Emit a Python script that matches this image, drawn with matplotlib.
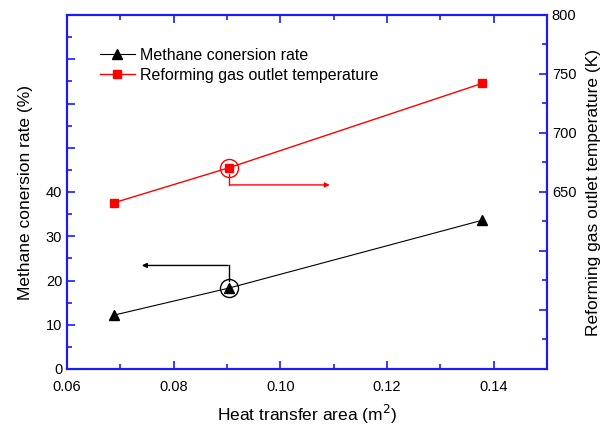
import matplotlib
matplotlib.use("Agg")
import matplotlib.pyplot as plt
import numpy as np

plt.rcParams['font.family'] = ['Liberation Sans', 'DejaVu Sans']

area = [0.0689, 0.0904, 0.1378]
conversion = [12.2, 18.3, 33.6]
temperature = [641, 670.6, 742]

left_ticks = [0, 10, 20, 30, 40]
right_ticks = [650, 700, 750, 800]
x_ticks = [0.06, 0.08, 0.10, 0.12, 0.14]
x_ticklabels = ['0.06', '0.08', '0.10', '0.12', '0.14']

blue = '#1a1aff'

fig = plt.figure(figsize=(6.11, 4.26), dpi=100)
ax = fig.add_axes([67/611, 1-369/426, 480/611, 354/426])
ax2 = ax.twinx()

l1, = ax.plot(area, conversion, color='black', lw=0.8, marker='^', ms=7, label='Methane conersion rate')
l2, = ax2.plot(area, temperature, color='red', lw=1.0, marker='s', ms=6, label='Reforming gas outlet temperature')

ax.set_xlim(0.06, 0.15)
ax.set_ylim(0, 80)
ax2.set_ylim(500, 800)

ax.set_xticks(x_ticks)
ax.set_xticklabels(x_ticklabels)
ax.set_xticks(np.arange(0.07, 0.15, 0.02), minor=True)
ax.set_yticks(list(range(0, 81, 10)))
ax.set_yticklabels([str(t) if t in left_ticks else '' for t in range(0, 81, 10)])
ax.set_yticks(list(range(5, 80, 10)), minor=True)
ax2.set_yticks(list(range(500, 801, 50)))
ax2.set_yticklabels([str(t) if t in right_ticks else '' for t in range(500, 801, 50)])
ax2.set_yticks(list(range(525, 800, 50)), minor=True)

for a in (ax, ax2):
    for s in a.spines.values():
        s.set_color(blue)
        s.set_linewidth(1.5)
    a.tick_params(which='both', direction='in', color=blue, labelsize=10.5, width=1.2)
    a.tick_params(which='major', length=6)
    a.tick_params(which='minor', length=3.5)
ax.tick_params(axis='x', which='both', top=True)
ax.tick_params(axis='x', which='major', pad=8)
ax.tick_params(axis='y', which='both', right=False)
ax2.tick_params(axis='y', which='both', left=False)

ax.set_xlabel('Heat transfer area (m$^2$)', fontsize=12.5, labelpad=6)
ax.set_ylabel('Methane conersion rate (%)', fontsize=12.5, labelpad=9)
ax2.set_ylabel('Reforming gas outlet temperature (K)', fontsize=12.5, labelpad=7)

# circles around highlighted points
ax.plot([area[1]], [conversion[1]], marker='o', ms=13, mfc='none', mec='black', mew=1.0)
ax2.plot([area[1]], [temperature[1]], marker='o', ms=13, mfc='none', mec='red', mew=1.0)

# black arrow: up then left
ax.plot([area[1], area[1]], [conversion[1] + 1.5, 23.4], color='black', lw=1.0)
ax.annotate('', xy=(0.0735, 23.4), xytext=(area[1] + 0.0003, 23.4),
            arrowprops=dict(arrowstyle='-|>', color='black', lw=1.0, mutation_scale=7))
# red arrow: down then right
ax2.plot([area[1], area[1]], [temperature[1] - 5, 656], color='red', lw=1.0)
ax2.annotate('', xy=(0.1098, 656), xytext=(area[1] - 0.0003, 656),
             arrowprops=dict(arrowstyle='-|>', color='red', lw=1.0, mutation_scale=7))

ax.legend(handles=[l1, l2], loc='upper left', bbox_to_anchor=(0.055, 0.925), frameon=False,
          fontsize=11.5, handlelength=2.2, handletextpad=0.3, labelspacing=0.3, borderaxespad=0)

fig.savefig('out.png', dpi=100)
